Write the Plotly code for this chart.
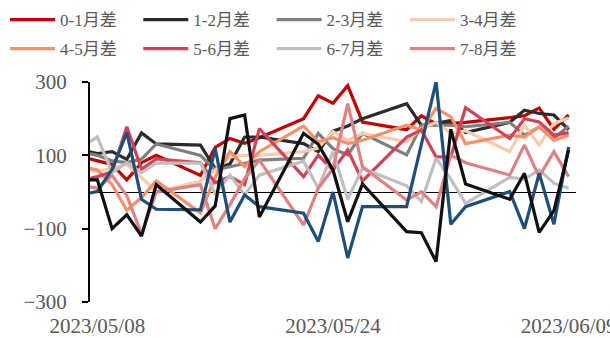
import plotly.graph_objects as go

# Trading dates (the first one sits just left of the visible window)
dates = ["2023-05-05", "2023-05-08", "2023-05-09", "2023-05-10", "2023-05-11", "2023-05-12",
         "2023-05-15", "2023-05-16", "2023-05-17", "2023-05-18", "2023-05-19",
         "2023-05-22", "2023-05-23", "2023-05-24", "2023-05-25", "2023-05-26",
         "2023-05-29", "2023-05-30", "2023-05-31", "2023-06-01", "2023-06-02",
         "2023-06-05", "2023-06-06", "2023-06-07", "2023-06-08", "2023-06-09"]

spread_0_1 = [115, 85, 75, 33, 80, 100, 45, 122, 146, 133, 148, 200, 262, 242, 290, 191,
              170, 208, 186, 187, 190, 203, 208, 229, 171, 210]
spread_1_2 = [130, 105, 110, 89, 161, 131, 128, 64, 76, 150, 150, 132, 110, 166, 180, 200,
              241, 182, 187, 195, 162, 190, 223, 214, 210, 170]
spread_2_3 = [125, 100, 85, 80, 90, 131, 100, 60, 69, 78, 87, 92, 160, 118, 101, 160,
              101, 182, 182, 182, 178, 190, 155, 177, 146, 180]
spread_3_4 = [85, 55, 65, 75, 40, 0, 30, 60, 96, 100, 100, 110, 120, 165, 140, 160,
              137, 173, 190, 160, 167, 110, 182, 128, 187, 202]
spread_4_5 = [85, 60, 20, -50, -15, 30, -57, 40, 110, 69, 110, 180, 137, 148, 132, 141,
              182, 169, 228, 205, 132, 155, 150, 178, 141, 155]
spread_5_6 = [12, 42, 55, 178, 62, 90, 80, 25, 42, 20, 173, 42, 100, 60, 115, 30,
              150, 169, 96, 96, 230, 146, 200, 191, 155, 162]
spread_6_7 = [72, 150, 53, 80, 53, 79, 79, -4, 46, -8, 46, 84, 10, 110, -20, 65,
              17, -26, 92, 35, -31, 40, 35, 60, 24, 10]
spread_7_8 = [34, 10, 45, -10, -115, 0, 20, -100, -35, 37, 87, -90, 10, 64, 241, 69,
              -22, 1, -40, 101, 80, 46, 128, 42, 110, 42]
spread_8_9 = [-20, 1, 62, 162, -20, -47, -49, 119, -82, -8, -40, -58, -135, 0, -180, -40,
              -40, 132, 300, -88, -40, 1, -100, 51, -88, 123]
spread_9_10 = [33, 33, -100, -62, -120, 20, -82, -38, 200, 210, -68, 160, 130, 60, -81, 22,
               -108, -111, -190, 171, 22, -20, 51, -110, -51, 114]

series_names = ["0-1月差", "1-2月差", "2-3月差", "3-4月差", "4-5月差", "5-6月差", "6-7月差", "7-8月差",
                "8-9月差", "9-10月差"]
series_values = [spread_0_1, spread_1_2, spread_2_3, spread_3_4, spread_4_5,
                 spread_5_6, spread_6_7, spread_7_8, spread_8_9, spread_9_10]
series_colors = ["#C00000", "#2B2B2E", "#7F7F7F", "#F8CBAD", "#F4916B",
                 "#D0435B", "#BFBFBF", "#DE8283", "#1F4E79", "#111111"]
n_listed = 8  # only the first eight spreads get a legend entry

tick_dates = ["2023-05-08", "2023-05-24", "2023-06-09"]
tick_text = ["2023/05/08", "2023/05/24", "2023/06/09"]
y_ticks = [-300, -100, 100, 300]

FONT = "Liberation Serif, Times New Roman, Noto Sans CJK SC, serif"
TEXT_GREY = "#595959"
W, H = 610, 338

fig = go.Figure()
legends = {}
for i, (name, vals, color) in enumerate(zip(series_names, series_values, series_colors)):
    listed = i < n_listed
    key = "legend" if i == 0 else f"legend{i + 1}"
    fig.add_trace(go.Scatter(
        x=dates, y=vals, name=name, mode="lines",
        line=dict(color=color, width=3.2),
        showlegend=listed,
        legend=key if listed else "legend",
    ))
    if listed:
        col, row = i % 4, i // 4
        legends[key] = dict(
            x=(5 + 133.3 * col) / W, y=1 - (2 + 29 * row) / H,
            xref="container", yref="container", xanchor="left", yanchor="top",
            orientation="h", itemwidth=45,
            font=dict(family=FONT, size=17, color=TEXT_GREY),
            bgcolor="rgba(0,0,0,0)",
        )

fig.update_layout(
    width=W, height=H,
    margin=dict(l=90, r=34, t=82, b=36, autoexpand=False),
    paper_bgcolor="white", plot_bgcolor="white",
    font=dict(family=FONT, color=TEXT_GREY),
    xaxis=dict(
        type="date",
        range=["2023-05-07 12:00", "2023-06-09 12:00"],
        tickmode="array", tickvals=tick_dates, ticktext=tick_text,
        showgrid=False, showline=False, zeroline=False,
        ticks="outside", ticklen=5, tickcolor="rgba(0,0,0,0)",
        ticklabeloverflow="allow",
        tickfont=dict(family=FONT, size=21, color=TEXT_GREY),
    ),
    yaxis=dict(
        range=[-300, 300],
        tickmode="array", tickvals=y_ticks,
        showgrid=False,
        showline=True, linecolor="black", linewidth=2,
        ticks="outside", ticklen=6, tickwidth=2, tickcolor="black",
        ticklabelstandoff=11,
        zeroline=True, zerolinecolor="black", zerolinewidth=1,
        tickfont=dict(family=FONT, size=21, color=TEXT_GREY),
    ),
)
fig.update_layout(**legends)

fig.write_html("out.html")
